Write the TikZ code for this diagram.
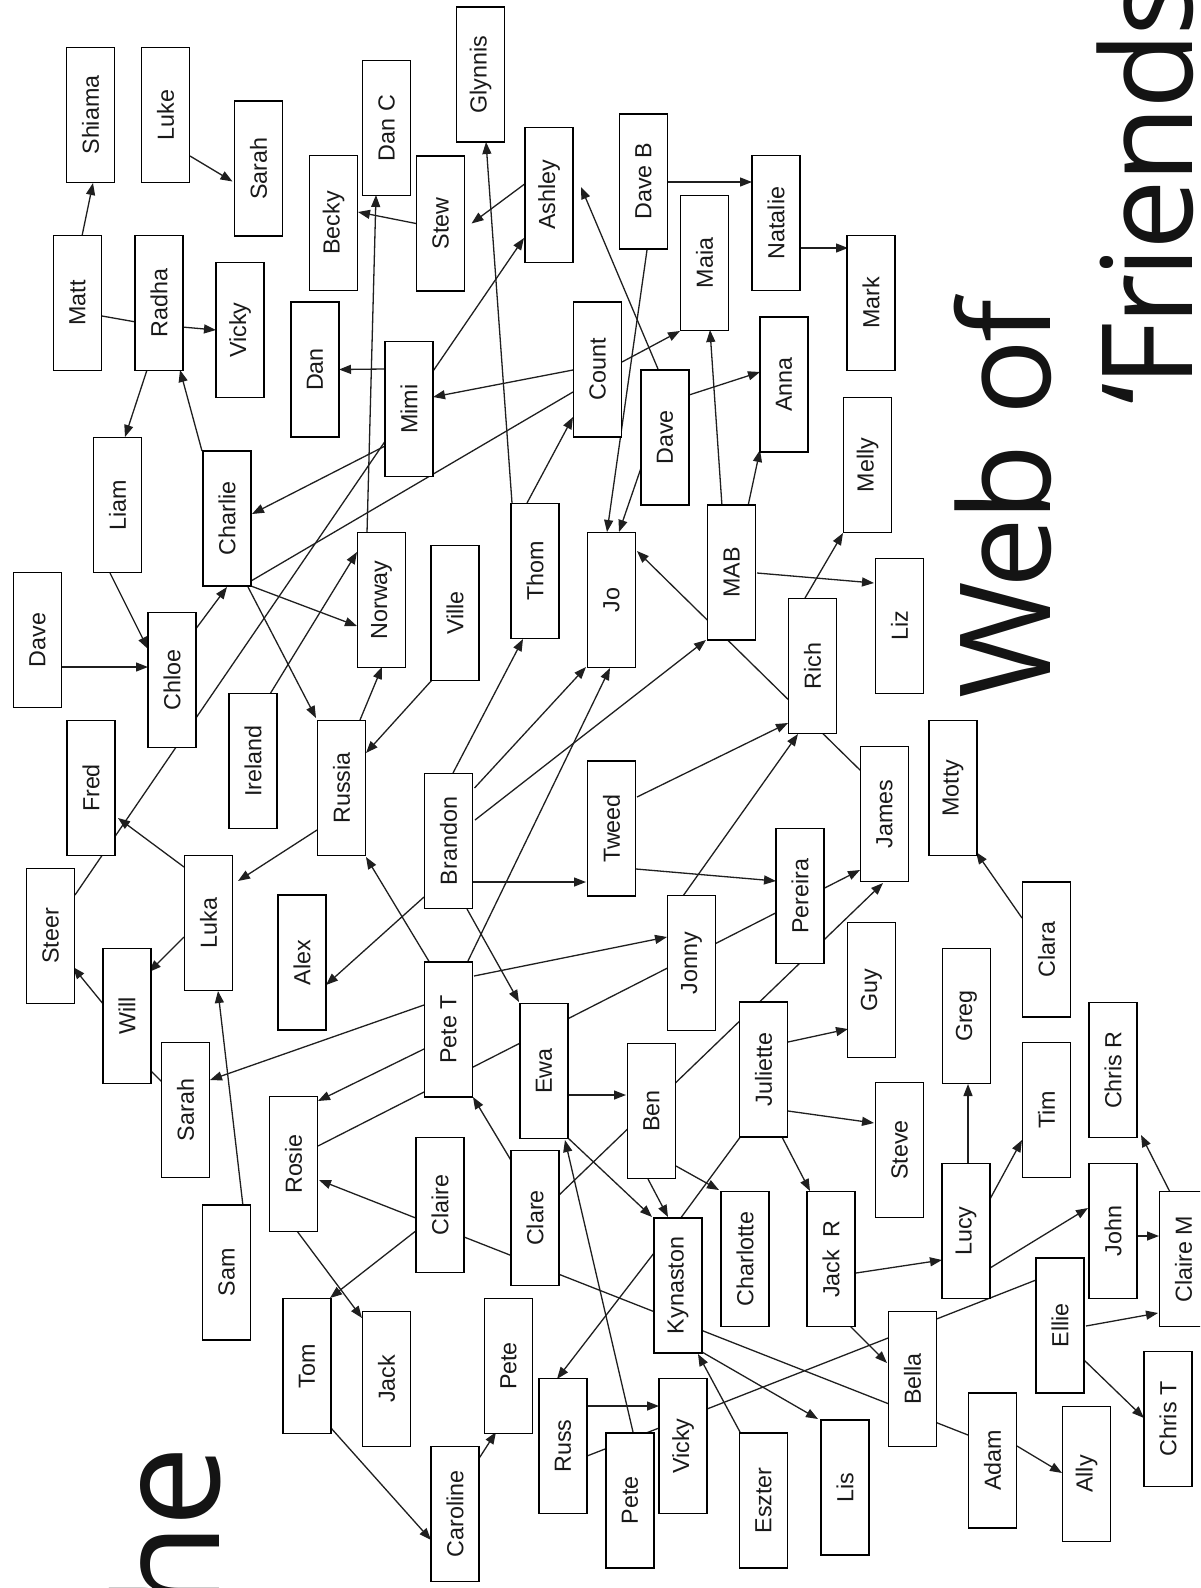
\documentclass[tikz,border=0pt]{standalone}
\usepackage{fontspec}
\setmainfont{Liberation Sans}
\newfontfamily\titlefont[LetterSpace=-3]{Open Sans}
\usetikzlibrary{calc,arrows.meta,backgrounds}
\begin{document}
\begin{tikzpicture}[x=1pt,y=-1pt,
  person/.style={draw=black, line width=1.7pt, fill=white, minimum width=48pt, minimum height=135pt, inner sep=0pt, font=\fontsize{23.3}{26}\selectfont, text=black!90},
  link/.style={line width=1.3pt, draw=black!88},
  arr/.style={link, -{Triangle[length=12pt,width=9pt]}},
  bigtitle/.style={rotate=90, inner sep=0pt, text=black!92}
]
\clip (0,0) rectangle (1200,1588);
% ---------- people ----------
\node[person] (Shiama) at (90.5,115) {\rotatebox{90}{Shiama}};
\node[person] (Luke) at (165.5,115) {\rotatebox{90}{Luke}};
\node[person] (SarahA) at (258.5,168.5) {\rotatebox{90}{Sarah}};
\node[person] (Matt) at (77.5,303) {\rotatebox{90}{Matt}};
\node[person] (Radha) at (159,303) {\rotatebox{90}{Radha}};
\node[person] (VickyA) at (240,330) {\rotatebox{90}{Vicky}};
\node[person] (Becky) at (333.5,223) {\rotatebox{90}{Becky}};
\node[person] (DanC) at (386.5,128) {\rotatebox{90}{Dan C}};
\node[person] (Stew) at (440.5,223.5) {\rotatebox{90}{Stew}};
\node[person] (Glynnis) at (480.5,74.5) {\rotatebox{90}{Glynnis}};
\node[person] (Ashley) at (549,195) {\rotatebox{90}{Ashley}};
\node[person] (DaveB) at (643.5,181.5) {\rotatebox{90}{Dave B}};
\node[person] (Natalie) at (776,223) {\rotatebox{90}{Natalie}};
\node[person] (Maia) at (704.5,263) {\rotatebox{90}{Maia}};
\node[person] (Count) at (597.5,369.5) {\rotatebox{90}{Count}};
\node[person] (DaveM) at (665,437.5) {\rotatebox{90}{Dave}};
\node[person] (Anna) at (784,384.5) {\rotatebox{90}{Anna}};
\node[person] (Mark) at (871,303) {\rotatebox{90}{Mark}};
\node[person] (Dan) at (315,369.5) {\rotatebox{90}{Dan}};
\node[person] (Mimi) at (409,409) {\rotatebox{90}{Mimi}};
\node[person] (Liam) at (117.5,505) {\rotatebox{90}{Liam}};
\node[person] (Charlie) at (227,518.5) {\rotatebox{90}{Charlie}};
\node[person] (DaveL) at (37.5,640) {\rotatebox{90}{Dave}};
\node[person] (Chloe) at (172,680) {\rotatebox{90}{Chloe}};
\node[person] (Norway) at (381.5,600) {\rotatebox{90}{Norway}};
\node[person] (Ville) at (455,613) {\rotatebox{90}{Ville}};
\node[person] (Thom) at (535,571) {\rotatebox{90}{Thom}};
\node[person] (Jo) at (611.5,600) {\rotatebox{90}{Jo}};
\node[person] (MAB) at (731.5,572.5) {\rotatebox{90}{MAB}};
\node[person] (Melly) at (867.5,465) {\rotatebox{90}{Melly}};
\node[person] (Liz) at (899.5,626) {\rotatebox{90}{Liz}};
\node[person] (Rich) at (812.5,666) {\rotatebox{90}{Rich}};
\node[person] (Fred) at (91,788) {\rotatebox{90}{Fred}};
\node[person] (Ireland) at (253,761) {\rotatebox{90}{Ireland}};
\node[person] (Russia) at (341.5,788) {\rotatebox{90}{Russia}};
\node[person] (Motty) at (953,788) {\rotatebox{90}{Motty}};
\node[person] (James) at (884.5,814) {\rotatebox{90}{James}};
\node[person] (Brandon) at (448.5,841) {\rotatebox{90}{Brandon}};
\node[person] (Tweed) at (611.5,828.5) {\rotatebox{90}{Tweed}};
\node[person] (Pereira) at (800,896) {\rotatebox{90}{Pereira}};
\node[person] (Luka) at (208.5,923) {\rotatebox{90}{Luka}};
\node[person] (Alex) at (302,962.5) {\rotatebox{90}{Alex}};
\node[person] (Steer) at (50.5,936) {\rotatebox{90}{Steer}};
\node[person] (Will) at (127,1016) {\rotatebox{90}{Will}};
\node[person] (SarahB) at (185.5,1110) {\rotatebox{90}{Sarah}};
\node[person] (PeteT) at (448.5,1029.5) {\rotatebox{90}{Pete T}};
\node[person] (Jonny) at (691.5,963) {\rotatebox{90}{Jonny}};
\node[person] (Ewa) at (544,1071) {\rotatebox{90}{Ewa}};
\node[person] (Ben) at (651.5,1111) {\rotatebox{90}{Ben}};
\node[person] (Juliette) at (763.5,1069.5) {\rotatebox{90}{Juliette}};
\node[person] (Guy) at (871.5,990) {\rotatebox{90}{Guy}};
\node[person] (Greg) at (966.5,1016) {\rotatebox{90}{Greg}};
\node[person] (Clara) at (1046.5,949.5) {\rotatebox{90}{Clara}};
\node[person] (Tim) at (1046.5,1110) {\rotatebox{90}{Tim}};
\node[person] (ChrisR) at (1113,1070) {\rotatebox{90}{Chris R}};
\node[person] (Steve) at (899.5,1150) {\rotatebox{90}{Steve}};
\node[person] (Rosie) at (293.5,1164) {\rotatebox{90}{Rosie}};
\node[person] (Claire) at (440,1205) {\rotatebox{90}{Claire}};
\node[person] (Clare) at (535,1218) {\rotatebox{90}{Clare}};
\node[person] (Kynaston) at (678,1285.5) {\rotatebox{90}{Kynaston}};
\node[person] (Charlotte) at (745,1259) {\rotatebox{90}{Charlotte}};
\node[person] (JackR) at (831,1259) {\rotatebox{90}{Jack\ \ R}};
\node[person] (Lucy) at (966,1231) {\rotatebox{90}{Lucy}};
\node[person] (John) at (1113,1231) {\rotatebox{90}{John}};
\node[person] (ClaireM) at (1183.5,1259) {\rotatebox{90}{Claire M}};
\node[person] (Ellie) at (1060,1325.5) {\rotatebox{90}{Ellie}};
\node[person] (Bella) at (912.5,1379) {\rotatebox{90}{Bella}};
\node[person] (Adam) at (992.5,1460.5) {\rotatebox{90}{Adam}};
\node[person] (Ally) at (1086.5,1474) {\rotatebox{90}{Ally}};
\node[person] (ChrisT) at (1168,1419) {\rotatebox{90}{Chris T}};
\node[person] (Lis) at (845,1487.5) {\rotatebox{90}{Lis}};
\node[person] (Sam) at (226.5,1272.5) {\rotatebox{90}{Sam}};
\node[person] (Tom) at (307,1366) {\rotatebox{90}{Tom}};
\node[person] (Jack) at (386.5,1379) {\rotatebox{90}{Jack}};
\node[person] (PeteA) at (508.5,1366) {\rotatebox{90}{Pete}};
\node[person] (Caroline) at (455,1514) {\rotatebox{90}{Caroline}};
\node[person] (Russ) at (563,1446) {\rotatebox{90}{Russ}};
\node[person] (PeteB) at (630,1500.5) {\rotatebox{90}{Pete}};
\node[person] (VickyB) at (683,1446) {\rotatebox{90}{Vicky}};
\node[person] (Eszter) at (763.5,1500.5) {\rotatebox{90}{Eszter}};
% ---------- title ----------
\node[bigtitle, anchor=base east, font=\titlefont\fontsize{145}{150}\selectfont] (tThe) at (219,1446) {The};
\node[bigtitle, anchor=base west, font=\titlefont\fontsize{126}{130}\selectfont] (tWeb) at (1050,699) {Web of};
\node[bigtitle, anchor=base west, font=\titlefont\fontsize{126}{130}\selectfont] (tFriends) at (1192,405) {‘Friends’};
% ---------- connectors ----------
\begin{pgfonlayer}{background}
\fill[white] (0,0) rectangle (1200,1588);
\draw[arr] ($(Matt.center)+(4.5,-67)$) -- ($(Shiama.center)+(2.5,68)$);
\draw[arr] ($(Luke.center)+(24.5,41)$) -- ($(SarahA.center)+(-26,13)$);
\draw[link] ($(Matt.center)+(24.5,13)$) -- ($(Radha.center)+(-23,19)$);
\draw[arr] ($(Radha.center)+(23,24)$) -- ($(VickyA.center)+(-24,0)$);
\draw[arr] ($(Radha.center)+(-12,67)$) -- ($(Liam.center)+(7.5,-68)$);
\draw[arr] ($(Charlie.center)+(-25,-67.5)$) -- ($(Radha.center)+(21,67)$);
\draw[arr] ($(Stew.center)+(-24.5,0)$) -- ($(Becky.center)+(24.5,-11)$);
\draw[arr] ($(Norway.center)+(-14.5,-67)$) -- ($(DanC.center)+(-10.5,67)$);
\draw[arr] ($(Mimi.center)+(-24,-40)$) -- ($(Dan.center)+(24,0)$);
\draw[arr] ($(Thom.center)+(-23,-68)$) -- ($(Glynnis.center)+(5.5,67.5)$);
\draw[arr] ($(Ashley.center)+(-23,-12)$) -- ($(Stew.center)+(31,0)$);
\draw[arr] ($(Steer.center)+(24.5,-41)$) -- ($(Ashley.center)+(-25,43)$);
\draw[arr] ($(DaveM.center)+(-7,-68.5)$) -- ($(Ashley.center)+(32,-8)$);
\draw[arr] ($(DaveB.center)+(24.5,0.5)$) -- ($(Natalie.center)+(-24,-41)$);
\draw[arr] ($(DaveB.center)+(3.5,68.5)$) -- ($(Jo.center)+(-4.5,-68)$);
\draw[arr] ($(DaveM.center)+(-24,30.5)$) -- ($(Jo.center)+(7.5,-68)$);
\draw[arr] ($(Count.center)+(24.5,-7.5)$) -- ($(Maia.center)+(-24.5,68)$);
\draw[arr] ($(Count.center)+(-24.5,0.5)$) -- ($(Mimi.center)+(24,-12)$);
\draw[arr] ($(DaveM.center)+(24,-42.5)$) -- ($(Anna.center)+(-24,-12.5)$);
\draw[arr] ($(MAB.center)+(-9.5,-66.5)$) -- ($(Maia.center)+(5.5,67)$);
\draw[arr] ($(MAB.center)+(16.5,-66.5)$) -- ($(Anna.center)+(-24,65.5)$);
\draw[arr] ($(Thom.center)+(-8,-68)$) -- ($(Count.center)+(-24.5,47.5)$);
\draw[link] ($(Charlie.center)+(24,62.5)$) -- ($(Count.center)+(-24.5,22.5)$);
\draw[arr] ($(Mimi.center)+(-24,37)$) -- ($(Charlie.center)+(25,-4.5)$);
\draw[arr] ($(Natalie.center)+(24,25)$) -- ($(Mark.center)+(-23,-55)$);
\draw[arr] ($(Liam.center)+(-7.5,68)$) -- ($(Chloe.center)+(-24,-31)$);
\draw[arr] ($(DaveL.center)+(24.5,27)$) -- ($(Chloe.center)+(-24,-13)$);
\draw[arr] ($(Chloe.center)+(23,-50)$) -- ($(Charlie.center)+(0,68.5)$);
\draw[arr] ($(Charlie.center)+(24,67.5)$) -- ($(Norway.center)+(-24.5,26)$);
\draw[arr] ($(Charlie.center)+(21,68.5)$) -- ($(Russia.center)+(-25.5,-70)$);
\draw[arr] ($(Ireland.center)+(17,-67)$) -- ($(Norway.center)+(-24.5,-48)$);
\draw[arr] ($(Russia.center)+(18.5,-68)$) -- ($(Norway.center)+(0.5,67)$);
\draw[arr] ($(Ville.center)+(-23,67)$) -- ($(Russia.center)+(24.5,-35)$);
\draw[arr] ($(Brandon.center)+(4.5,-68)$) -- ($(Thom.center)+(-12,68)$);
\draw[arr] ($(Brandon.center)+(26,-53)$) -- ($(Jo.center)+(-25.5,67)$);
\draw[arr] ($(PeteT.center)+(18.5,-66.5)$) -- ($(Jo.center)+(-1.5,68)$);
\draw[arr] ($(Brandon.center)+(26.5,-21)$) -- ($(MAB.center)+(-25.5,67.5)$);
\draw[arr] ($(James.center)+(-22.5,-42)$) -- ($(Jo.center)+(25.5,-49)$);
\draw[arr] ($(Tweed.center)+(25.5,-31.5)$) -- ($(Rich.center)+(-24.5,57)$);
\draw[arr] ($(Jonny.center)+(-8.5,-67)$) -- ($(Rich.center)+(-14.5,68)$);
\draw[arr] ($(MAB.center)+(25.5,0.5)$) -- ($(Liz.center)+(-25.5,-43)$);
\draw[arr] ($(Rich.center)+(-7.5,-68)$) -- ($(Melly.center)+(-24.5,68)$);
\draw[arr] ($(Luka.center)+(-24.5,-56)$) -- ($(Fred.center)+(27,30)$);
\draw[arr] ($(Russia.center)+(-24.5,42)$) -- ($(Luka.center)+(29.5,-42)$);
\draw[arr] ($(Brandon.center)+(-24.5,56)$) -- ($(Alex.center)+(24,22.5)$);
\draw[arr] ($(PeteT.center)+(-18.5,-66.5)$) -- ($(Russia.center)+(24.5,69)$);
\draw[arr] ($(Luka.center)+(-24.5,14)$) -- ($(Will.center)+(22,-44)$);
\draw[arr] ($(Will.center)+(-23,-11)$) -- ($(Steer.center)+(22.5,31)$);
\draw[arr] ($(Sam.center)+(16.5,-66.5)$) -- ($(Luka.center)+(9.5,68)$);
\draw[arr] ($(PeteT.center)+(-24.5,-24.5)$) -- ($(SarahB.center)+(24.5,-30)$);
\draw[link] ($(Will.center)+(23,54)$) -- ($(SarahB.center)+(-22.5,-27)$);
\draw[arr] ($(PeteT.center)+(-24.5,19.5)$) -- ($(Rosie.center)+(24.5,-63)$);
\draw[arr] ($(Rosie.center)+(24.5,-18)$) -- ($(James.center)+(-24.5,56)$);
\draw[arr] ($(Adam.center)+(-24.5,-25.5)$) -- ($(Rosie.center)+(25.5,16)$);
\draw[arr] ($(Rosie.center)+(3.5,67)$) -- ($(Jack.center)+(-24.5,-61)$);
\draw[arr] ($(Claire.center)+(-23,25)$) -- ($(Tom.center)+(23,-68)$);
\draw[arr] ($(Tom.center)+(24,62)$) -- ($(Caroline.center)+(-24,26)$);
\draw[arr] ($(Caroline.center)+(23,-54)$) -- ($(PeteA.center)+(-12.5,66)$);
\draw[arr] ($(Brandon.center)+(24.5,41)$) -- ($(Tweed.center)+(-25.5,53.5)$);
\draw[arr] ($(Tweed.center)+(24.5,40.5)$) -- ($(Pereira.center)+(-24,-15)$);
\draw[arr] ($(PeteT.center)+(25.5,-53.5)$) -- ($(Jonny.center)+(-24.5,-26)$);
\draw[arr] ($(Brandon.center)+(18.5,68)$) -- ($(Ewa.center)+(-25,-69)$);
\draw[arr] ($(Ewa.center)+(25,24)$) -- ($(Ben.center)+(-25.5,-16)$);
\draw[arr] ($(PeteB.center)+(3,-68.5)$) -- ($(Ewa.center)+(21,69)$);
\draw[arr] ($(Ewa.center)+(24,67)$) -- ($(Kynaston.center)+(-26,-68.5)$);
\draw[arr] ($(Ben.center)+(-3.5,68)$) -- ($(Kynaston.center)+(-10,-68.5)$);
\draw[arr] ($(Ben.center)+(24.5,55)$) -- ($(Charlotte.center)+(-26,-69)$);
\draw[arr] ($(Clare.center)+(22,-21)$) -- ($(James.center)+(-1.5,69)$);
\draw[link] ($(Kynaston.center)+(2,-66.5)$) -- ($(Juliette.center)+(-22.5,66.5)$);
\draw[arr] ($(Juliette.center)+(24.5,-27.5)$) -- ($(Guy.center)+(-23.5,39)$);
\draw[arr] ($(Juliette.center)+(24.5,41.5)$) -- ($(Steve.center)+(-25.5,-27)$);
\draw[arr] ($(Juliette.center)+(18.5,67.5)$) -- ($(JackR.center)+(-21,-68)$);
\draw[arr] ($(Lucy.center)+(2,-67)$) -- ($(Greg.center)+(1.5,68)$);
\draw[arr] ($(Lucy.center)+(24,-32)$) -- ($(Tim.center)+(-24.5,30)$);
\draw[arr] ($(ClaireM.center)+(-13.5,-67)$) -- ($(ChrisR.center)+(28,65)$);
\draw[arr] ($(Clara.center)+(-24.5,-31.5)$) -- ($(Motty.center)+(23,64)$);
\draw[arr] ($(JackR.center)+(25,14)$) -- ($(Lucy.center)+(-24,29)$);
\draw[arr] ($(Lucy.center)+(24,37)$) -- ($(John.center)+(-25,-23)$);
\draw[arr] ($(John.center)+(24,5)$) -- ($(ClaireM.center)+(-24.5,-23)$);
\draw[arr] ($(Ellie.center)+(26,0.5)$) -- ($(ClaireM.center)+(-25.5,54)$);
\draw[arr] ($(Ellie.center)+(24,34.5)$) -- ($(ChrisT.center)+(-24,-1)$);
\draw[arr] ($(JackR.center)+(19,67)$) -- ($(Bella.center)+(-25.5,-16)$);
\draw[link] ($(VickyB.center)+(24,-37)$) -- ($(Ellie.center)+(-24,-45.5)$);
\draw[arr] ($(Adam.center)+(24.5,-14.5)$) -- ($(Ally.center)+(-24.5,-1)$);
\draw[arr] ($(Kynaston.center)+(24,66.5)$) -- ($(Lis.center)+(-27,-68.5)$);
\draw[arr] ($(Eszter.center)+(-23.5,-68.5)$) -- ($(Kynaston.center)+(20,68.5)$);
\draw[arr] ($(Russ.center)+(24,-40)$) -- ($(VickyB.center)+(-24,-40)$);
\draw[link] ($(Russ.center)+(24,10)$) -- ($(VickyB.center)+(-24,-18)$);
\draw[arr] ($(Kynaston.center)+(-24,-32.5)$) -- ($(Russ.center)+(-6,-67)$);
\draw[arr] ($(Clare.center)+(-23,-56)$) -- ($(PeteT.center)+(24.5,67.5)$);
\end{pgfonlayer}
\end{tikzpicture}
\end{document}
